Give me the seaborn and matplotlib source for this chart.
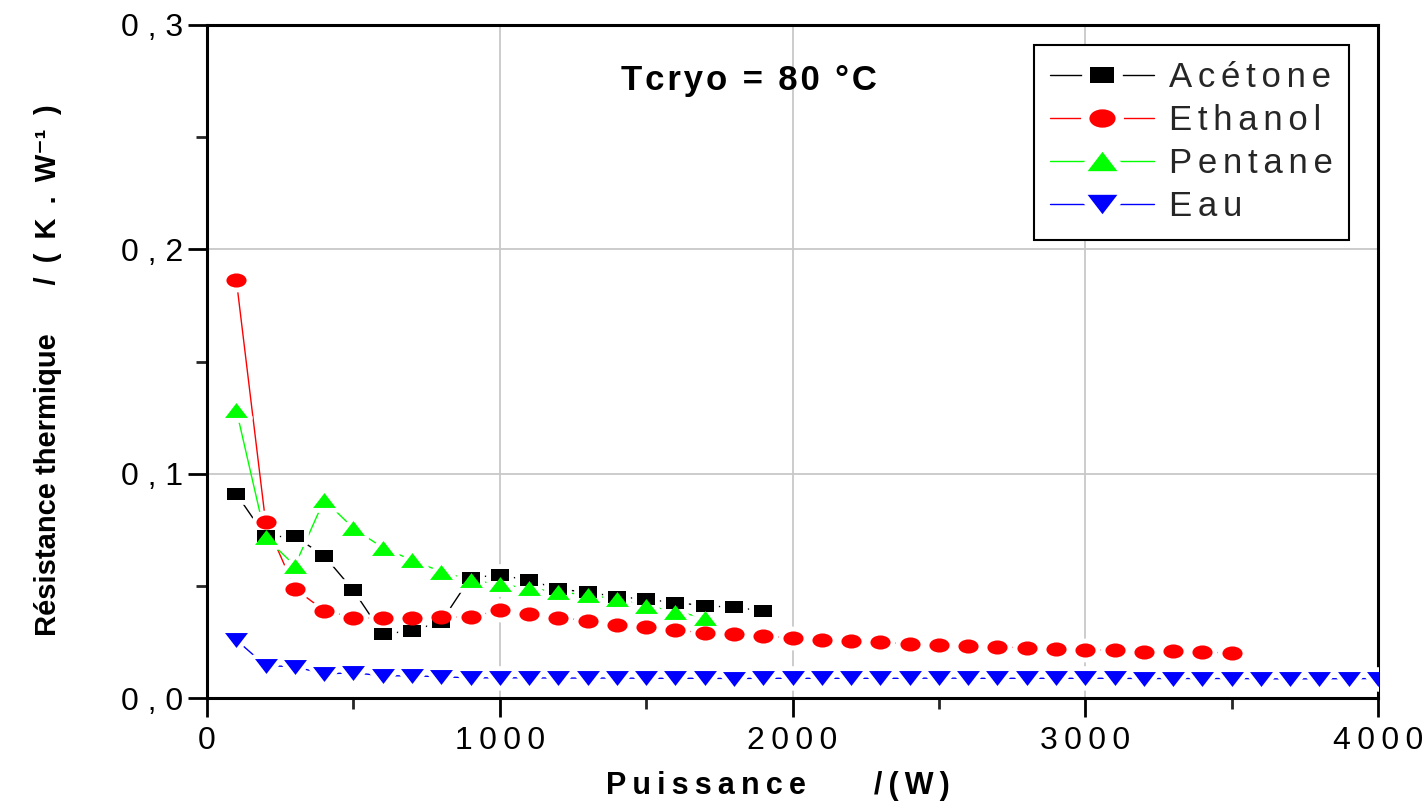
import numpy as np
import pandas as pd
import matplotlib
matplotlib.use('Agg')
import matplotlib.pyplot as plt
import seaborn as sns
from matplotlib import font_manager
from matplotlib.path import Path
from matplotlib.transforms import Affine2D
from matplotlib.lines import Line2D
from matplotlib.legend_handler import HandlerTuple
from matplotlib.ticker import MultipleLocator, FuncFormatter

# Data (power in W, thermal resistance in K/W)
power_acetone = list(range(100, 2000, 100))
acetone = [0.091, 0.072, 0.072, 0.0634, 0.048, 0.0285, 0.030, 0.034, 0.0537, 0.0548,
           0.0525, 0.0486, 0.0471, 0.0452, 0.044, 0.0425, 0.0412, 0.0404, 0.0389]

power_ethanol = list(range(100, 3600, 100))
ethanol = [0.1864, 0.0785, 0.0487, 0.039, 0.0358, 0.0355, 0.0358, 0.0362, 0.036, 0.0392,
           0.0374, 0.0358, 0.0345, 0.0326, 0.0318, 0.0302, 0.0291, 0.0284, 0.0275, 0.0269,
           0.0259, 0.0253, 0.0248, 0.0242, 0.0238, 0.0233, 0.0229, 0.0222, 0.0218, 0.0215,
           0.0212, 0.0206, 0.0208, 0.0204, 0.0201]

power_pentane = list(range(100, 1800, 100))
pentane = [0.1284, 0.0716, 0.059, 0.0883, 0.0757, 0.067, 0.0615, 0.0563, 0.0526, 0.0507,
           0.0489, 0.0473, 0.0459, 0.0441, 0.0412, 0.0385, 0.0358]

power_eau = list(range(100, 4100, 100))
eau = [0.0259, 0.0144, 0.014, 0.0107, 0.0113, 0.0099, 0.0099, 0.0095, 0.009, 0.009,
       0.009, 0.0089, 0.0089, 0.0089, 0.0088, 0.0088, 0.0088, 0.0087, 0.0088, 0.0088,
       0.0088, 0.0088, 0.0088, 0.0088, 0.0089, 0.0088, 0.0088, 0.0088, 0.0088, 0.0088,
       0.0088, 0.0087, 0.0087, 0.0087, 0.0087, 0.0086, 0.0085, 0.0086, 0.0086, 0.0087]

names = ['Acétone', 'Ethanol', 'Pentane', 'Eau']
colors = {'Acétone': '#000000', 'Ethanol': '#ff0000', 'Pentane': '#00ff00', 'Eau': '#0000ff'}

df = pd.concat([
    pd.DataFrame({'P': power_acetone, 'R': acetone, 'fluide': 'Acétone'}),
    pd.DataFrame({'P': power_ethanol, 'R': ethanol, 'fluide': 'Ethanol'}),
    pd.DataFrame({'P': power_pentane, 'R': pentane, 'fluide': 'Pentane'}),
    pd.DataFrame({'P': power_eau, 'R': eau, 'fluide': 'Eau'}),
], ignore_index=True)

# flattened markers (the original is stretched horizontally)
sq = Path([(-1, -0.68), (1, -0.68), (1, 0.68), (-1, 0.68), (-1, -0.68)],
          [1, 2, 2, 2, 79])
circ = Affine2D().scale(1, 0.7).transform_path(Path.unit_circle())
tri_up = Path([(0, 0.65), (-1, -0.65), (1, -0.65), (0, 0.65)], [1, 2, 2, 79])
tri_dn = Path([(0, -0.65), (-1, 0.65), (1, 0.65), (0, -0.65)], [1, 2, 2, 79])
markers = {'Acétone': (sq, 13), 'Ethanol': (circ, 14.5), 'Pentane': (tri_up, 16.5),
           'Eau': (tri_dn, 16.5)}

sns.set_theme(style='white')
plt.rcParams['font.family'] = ['Liberation Sans', 'DejaVu Sans']

HAIR = '\u200a'
SIXTH = '\u2006'
THIN = '\u2009'
EN = '\u2002'


def spaced(s, sep=HAIR):
    return sep.join(s)


# condensed font for the y label if there is one
try:
    font_manager.findfont(font_manager.FontProperties(family='Liberation Sans Narrow', weight='bold'),
                          fallback_to_default=False)
    ylab_family, ylab_size = ['Liberation Sans Narrow', 'DejaVu Sans'], 26
except ValueError:
    ylab_family, ylab_size = ['Liberation Sans', 'DejaVu Sans'], 21

fig = plt.figure(figsize=(14.24, 8.11), dpi=100)
ax = fig.add_axes([0.1454, 0.1393, 0.8223, 0.8299])

ax.grid(True, color='#c8c8c8', linewidth=1.3)
ax.set_axisbelow(True)

sns.lineplot(data=df, x='P', y='R', hue='fluide', palette=colors, linewidth=1.0,
             legend=False, ax=ax, zorder=2, sort=False, estimator=None)

# white halos so the connecting lines stop short of the markers
for name in names:
    sub = df[df['fluide'] == name]
    m, ms = markers[name]
    ax.plot(sub['P'], sub['R'], ls='none', marker=m, ms=ms, mfc='white', mec='white',
            mew=7, zorder=3)
for name in names:
    sub = df[df['fluide'] == name]
    m, ms = markers[name]
    ax.plot(sub['P'], sub['R'], ls='none', marker=m, ms=ms, mfc=colors[name],
            mec=colors[name], mew=0, zorder=4)

ax.set_xlim(0, 4000)
ax.set_ylim(0, 0.3)
ax.xaxis.set_major_locator(MultipleLocator(1000))
ax.xaxis.set_minor_locator(MultipleLocator(500))
ax.yaxis.set_major_locator(MultipleLocator(0.1))
ax.yaxis.set_minor_locator(MultipleLocator(0.05))
ax.xaxis.set_major_formatter(FuncFormatter(lambda v, p: spaced(f"{int(round(v))}", THIN)))
ax.yaxis.set_major_formatter(FuncFormatter(lambda v, p: ' '.join(f"{v:.1f}".replace('.', ','))))

ax.tick_params(axis='both', which='major', direction='out', length=14, width=2,
               labelsize=23, color='black', labelcolor='black', bottom=True, left=True)
ax.tick_params(axis='both', which='minor', direction='out', length=8, width=2,
               bottom=True, left=True)
ax.tick_params(axis='x', which='major', pad=6)
ax.tick_params(axis='y', which='major', pad=3)

for sp in ax.spines.values():
    sp.set_visible(True)
    sp.set_color('black')
    sp.set_linewidth(2.2)

ax.set_xlabel(spaced('Puissance', THIN) + '        ' + spaced('/(W)', THIN), fontsize=22,
              fontweight='bold', color='black')
ax.xaxis.set_label_coords(0.4876, -0.108)
ax.set_ylabel('Résistance thermique      ' + spaced('/(K.W', THIN + ' ') + '\u207b\u00b9' + EN + ')',
              fontsize=ylab_size, fontweight='bold', color='black', family=ylab_family)
ax.yaxis.set_label_coords(-0.124, 0.487)

ax.text(0.4625, 0.918, spaced('Tcryo = 80 °C'), transform=ax.transAxes,
        ha='center', va='center', fontsize=25, fontweight='bold', color='black')

handles = []
for name in names:
    m, ms = markers[name]
    ln = Line2D([], [], color=colors[name], lw=1.0)
    halo = Line2D([], [], ls='none', marker=m, ms=ms, mfc='white', mec='white', mew=12)
    mk = Line2D([], [], ls='none', marker=m, ms=ms, mfc=colors[name], mec=colors[name], mew=0)
    handles.append((ln, halo, mk))

leg = ax.legend(handles, [spaced(n, SIXTH) for n in names],
                handler_map={tuple: HandlerTuple(ndivide=1, pad=0)},
                loc='upper right', bbox_to_anchor=(0.9752, 0.9703), borderaxespad=0,
                fontsize=25, frameon=True, fancybox=False, framealpha=1, edgecolor='black',
                handlelength=3.0, handletextpad=0.42, labelspacing=0.29, borderpad=0.47,
                markerscale=1.3, numpoints=1)
leg.get_frame().set_linewidth(1.5)

fig.savefig('out.png', dpi=100)
